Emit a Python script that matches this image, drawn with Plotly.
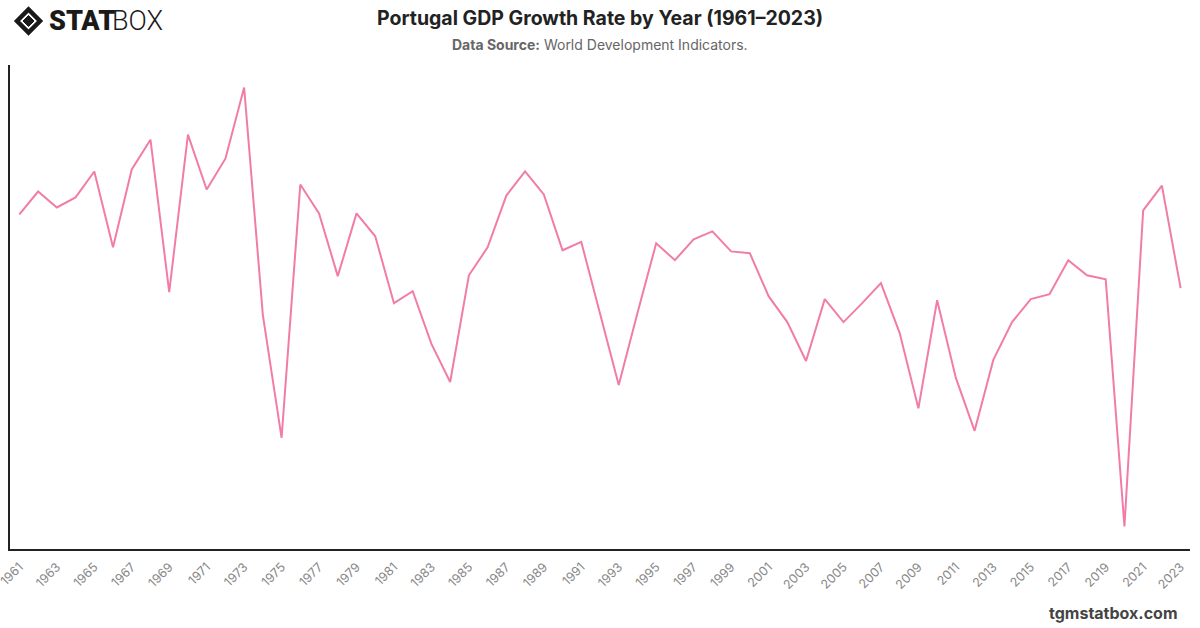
import plotly.graph_objects as go

years = list(range(1961, 2024))
growth = [5.56, 6.58, 5.87, 6.32, 7.47, 4.10, 7.56, 8.88, 2.11, 9.11,
          6.67, 8.04, 11.20, 1.09, -4.36, 6.89, 5.61, 2.82, 5.61, 4.59,
          1.62, 2.15, -0.19, -1.88, 2.86, 4.10, 6.40, 7.47, 6.45, 3.97,
          4.34, 1.13, -2.01, 1.18, 4.28, 3.53, 4.46, 4.81, 3.92, 3.84,
          1.93, 0.78, -0.95, 1.80, 0.78, 1.62, 2.51, 0.29, -3.05, 1.75,
          -1.70, -4.05, -0.90, 0.78, 1.80, 2.02, 3.53, 2.86, 2.68, -8.30,
          5.74, 6.84, 2.29]
tick_years = years[::2]
tick_labels = [str(y) for y in tick_years]

W, H = 1200, 628
L, R, T, B = 10, 10, 65, 79
pw, ph = W - L - R, H - T - B

def px(x):
    return (x - L) / pw

def py(y):
    return (H - B - y) / ph

fig = go.Figure()
fig.add_trace(go.Scatter(
    x=years, y=growth, mode="lines",
    line=dict(color="#f27ca8", width=2),
    hoverinfo="x+y", showlegend=False,
))

ymin, ymax = min(growth) - 1, max(growth) + 1

# logo diamond icon
cx, cy = 28.5, 21
def diamond(r):
    return (f"M {px(cx - r)} {py(cy)} L {px(cx)} {py(cy - r)} "
            f"L {px(cx + r)} {py(cy)} L {px(cx)} {py(cy + r)} Z")

shapes = [
    dict(type="path", xref="paper", yref="paper", path=diamond(11.5),
         line=dict(color="#1a1a1a", width=4.5), fillcolor="rgba(0,0,0,0)"),
    dict(type="path", xref="paper", yref="paper", path=diamond(5.5),
         line=dict(color="#1a1a1a", width=1), fillcolor="#1a1a1a"),
]

annotations = [
    dict(text="<b>Portugal GDP Growth Rate by Year (1961–2023)</b>",
         x=px(600), y=py(18), xref="paper", yref="paper",
         xanchor="center", yanchor="middle", showarrow=False,
         font=dict(family="Inter, Roboto, sans-serif", size=19.5, color="#222222")),
    dict(text="<b>Data Source:</b> World Development Indicators.",
         x=px(600), y=py(45), xref="paper", yref="paper",
         xanchor="center", yanchor="middle", showarrow=False,
         font=dict(family="Inter, Roboto, sans-serif", size=14, color="#666666")),
    dict(text="<b>tgmstatbox.com</b>",
         x=px(1180), y=py(613), xref="paper", yref="paper",
         xanchor="right", yanchor="middle", showarrow=False,
         font=dict(family="Inter, Roboto, sans-serif", size=16, color="#444444")),
    dict(text="STAT",
         x=px(47), y=py(21), xref="paper", yref="paper",
         xanchor="left", yanchor="middle", showarrow=False,
         font=dict(family="Roboto, sans-serif", size=27, color="#1a1a1a", weight=900)),
    dict(text="BOX",
         x=px(110), y=py(21), xref="paper", yref="paper",
         xanchor="left", yanchor="middle", showarrow=False,
         font=dict(family="Roboto, sans-serif", size=27, color="#1a1a1a", weight=300)),
]

fig.update_layout(
    width=W, height=H,
    margin=dict(l=L, r=R, t=T, b=B, autoexpand=False),
    paper_bgcolor="white", plot_bgcolor="white",
    shapes=shapes, annotations=annotations,
    xaxis=dict(range=[1960.5, 2023.5], tickvals=tick_years, ticktext=tick_labels,
               tickangle=-45, showgrid=False, zeroline=False,
               showline=True, linecolor="#222222", linewidth=1.5,
               ticks="", ticklabeloverflow="allow", automargin=False,
               ticklabelstandoff=4,
               tickfont=dict(family="Inter, Roboto, sans-serif", size=12.5, color="#888888"),
               fixedrange=True),
    yaxis=dict(range=[ymin, ymax], showticklabels=False, showgrid=False, zeroline=False,
               showline=True, linecolor="#222222", linewidth=1.5, ticks="",
               automargin=False, fixedrange=True),
)

fig.write_html("out.html")
